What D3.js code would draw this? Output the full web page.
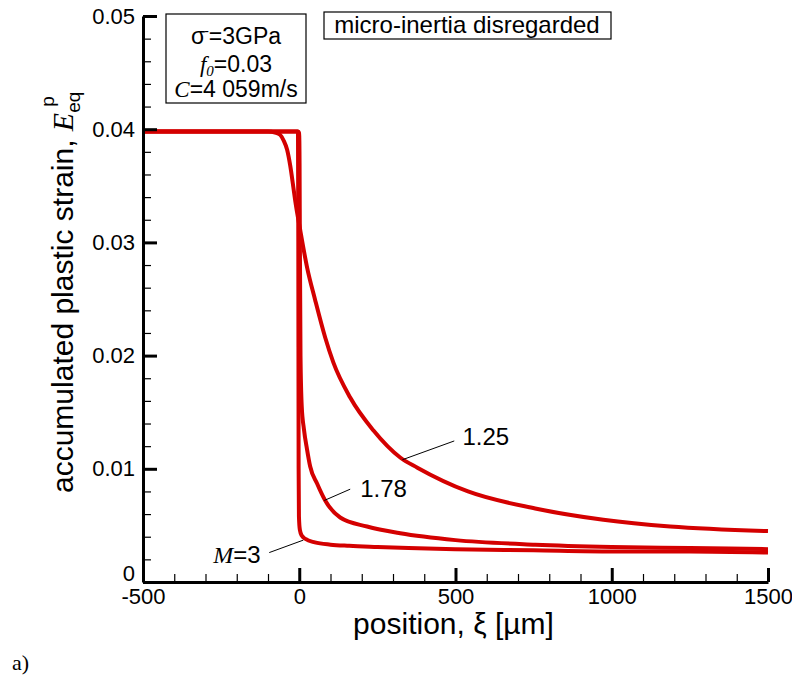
<!DOCTYPE html>
<html>
<head>
<meta charset="utf-8">
<script src="https://cdn.jsdelivr.net/npm/d3@7"></script>
<style>
  body { margin: 0; background: #fff; }
  text { font-family: "Liberation Sans", Arial, sans-serif; fill: #000; }
  .serif { font-family: "Liberation Serif", "Times New Roman", serif; }
</style>
</head>
<body>
<svg id="chart" width="792" height="675"></svg>
<script>
// curve data: position xi [um] vs accumulated plastic strain
var machLabels = ["1.25", "1.78", "3"];

var xi_125 = [-500, -150, -100, -77, -61, -50, -39, -29, -19, -13, 3, 25, 51, 83, 109, 163, 237, 323, 378, 540, 755, 973, 1187, 1500];
var eps_125 = [0.0398, 0.0398, 0.0398, 0.0397, 0.0395, 0.0390, 0.0382, 0.0368, 0.0349, 0.0337, 0.0311, 0.0278, 0.0249, 0.0216, 0.0194, 0.0163, 0.0134, 0.0110, 0.0101, 0.0080, 0.0065, 0.0055, 0.0049, 0.0045];

var xi_178 = [-500, -10, -3, -1, 0, 1, 2, 4, 8, 15, 25, 35, 57, 83, 131, 217, 323, 500, 755, 1000, 1250, 1500];
var eps_178 = [0.0398, 0.0398, 0.0398, 0.0397, 0.0394, 0.0370, 0.0300, 0.0200, 0.0155, 0.0135, 0.0117, 0.0102, 0.0087, 0.0072, 0.0057, 0.0049, 0.0043, 0.0037, 0.0033, 0.0031, 0.0030, 0.0029];

var xi_3 = [-500, -10, -6, -4, -3, -2, -1, 2, 8, 20, 50, 100, 160, 250, 350, 500, 750, 1000, 1250, 1500];
var eps_3 = [0.0398, 0.0398, 0.0398, 0.0396, 0.0300, 0.0100, 0.0058, 0.0046, 0.0041, 0.0038, 0.0035, 0.0033, 0.0032, 0.0031, 0.0030, 0.0029, 0.0028, 0.0027, 0.0027, 0.0026];

var xTicks = [-500, 0, 500, 1000, 1500];
var yTicks = [0, 0.01, 0.02, 0.03, 0.04, 0.05];
var xMinor = d3.range(-500, 1501, 100);
var yMinor = d3.range(0, 0.0501, 0.002);

var svg = d3.select("#chart");
var plotLeft = 143, plotRight = 768, plotTop = 16, plotBottom = 582;

var x = d3.scaleLinear().domain([-500, 1500]).range([plotLeft, plotRight]);
var y = d3.scaleLinear().domain([0, 0.05]).range([plotBottom, plotTop]);

var red = "#d40000";

// curves
var line = d3.line()
    .x(function(d) { return x(d[0]); })
    .y(function(d) { return y(d[1]); })
    .curve(d3.curveMonotoneX);

var series = [d3.zip(xi_125, eps_125), d3.zip(xi_178, eps_178), d3.zip(xi_3, eps_3)];

svg.append("g").selectAll("path")
    .data(series)
    .enter().append("path")
    .attr("d", line)
    .attr("fill", "none")
    .attr("stroke", red)
    .attr("stroke-width", 4)
    .attr("stroke-linejoin", "round");

// minor ticks
svg.append("g")
    .attr("transform", "translate(0," + plotBottom + ")")
    .call(d3.axisBottom(x).tickValues(xMinor).tickSize(-8).tickFormat(""))
    .call(function(g) { g.select(".domain").remove(); g.selectAll("line").attr("stroke-width", 1.2); });

svg.append("g")
    .attr("transform", "translate(" + plotLeft + ",0)")
    .call(d3.axisLeft(y).tickValues(yMinor).tickSize(-8).tickFormat(""))
    .call(function(g) { g.select(".domain").remove(); g.selectAll("line").attr("stroke-width", 1.2); });

// major axes
var xAxis = svg.append("g")
    .attr("transform", "translate(0," + plotBottom + ")")
    .call(d3.axisBottom(x).tickValues(xTicks).tickSizeInner(-14).tickSizeOuter(0).tickPadding(6)
        .tickFormat(function(d) { return String(d); }));

var yAxis = svg.append("g")
    .attr("transform", "translate(" + plotLeft + ",0)")
    .call(d3.axisLeft(y).tickValues(yTicks).tickSizeInner(-14).tickSizeOuter(0).tickPadding(8)
        .tickFormat(function(d) { return d === 0 ? "0" : d3.format(".2f")(d); }));

[xAxis, yAxis].forEach(function(g) {
    g.select(".domain").attr("stroke-width", 3).attr("stroke", "#000");
    g.selectAll(".tick line").attr("stroke-width", 3).attr("stroke", "#000");
    g.selectAll(".tick text").attr("font-size", 22).attr("font-family", "Liberation Sans, Arial, sans-serif");
});
yAxis.selectAll(".tick text").filter(function(d) { return d === 0; }).attr("dy", "-0.05em");

// axis titles
svg.append("text")
    .attr("x", (plotLeft + plotRight) / 2 - 2)
    .attr("y", 634)
    .attr("text-anchor", "middle")
    .attr("font-size", 30)
    .text("position, \u03be [\u00b5m]");

var yt = svg.append("text")
    .attr("transform", "translate(73,493) rotate(-90)")
    .attr("text-anchor", "start")
    .attr("font-size", 30);
yt.append("tspan").text("accumulated plastic strain, ");
yt.append("tspan").attr("class", "serif").attr("font-style", "italic").text("E");
yt.append("tspan").attr("font-size", 19).attr("dy", 7).text("eq");
yt.append("tspan").attr("font-size", 19).attr("dx", -15).attr("dy", -26).text("p");

// parameter box
svg.append("rect").attr("x", 166).attr("y", 14).attr("width", 140).attr("height", 89)
    .attr("fill", "#fff").attr("stroke", "#000").attr("stroke-width", 1.2);

var b1 = svg.append("text").attr("x", 236).attr("y", 44).attr("text-anchor", "middle").attr("font-size", 23);
b1.append("tspan").text("\u03c3");
b1.append("tspan").attr("font-size", 14).attr("dy", -8).attr("dx", -1).text("-");
b1.append("tspan").attr("dy", 8).text("=3GPa");

var b2 = svg.append("text").attr("x", 236).attr("y", 72).attr("text-anchor", "middle").attr("font-size", 23);
b2.append("tspan").attr("class", "serif").attr("font-style", "italic").text("f");
b2.append("tspan").attr("class", "serif").attr("font-style", "italic").attr("font-size", 15).attr("dy", 4).text("0");
b2.append("tspan").attr("dy", -4).text("=0.03");

var b3 = svg.append("text").attr("x", 236).attr("y", 97).attr("text-anchor", "middle").attr("font-size", 23);
b3.append("tspan").attr("class", "serif").attr("font-style", "italic").text("C");
b3.append("tspan").text("=4 059m/s");

// title box
svg.append("rect").attr("x", 324).attr("y", 12).attr("width", 287).attr("height", 27)
    .attr("fill", "#fff").attr("stroke", "#000").attr("stroke-width", 1.2);
svg.append("text").attr("x", 467).attr("y", 33).attr("text-anchor", "middle").attr("font-size", 24)
    .text("micro-inertia disregarded");

// curve labels with leader lines (data coordinates)
var labelPos = [
    { from: [330, 0.0108], to: [496, 0.01246], tx: 522, ty: 0.0121, italic: false },
    { from: [80, 0.0072], to: [163, 0.0082], tx: 195, ty: 0.0075, italic: false },
    { from: [13, 0.0037], to: [-96, 0.0026], tx: -275, ty: 0.0017, italic: true }
];
labelPos.forEach(function(p, i) {
    svg.append("line")
        .attr("x1", x(p.from[0])).attr("y1", y(p.from[1]))
        .attr("x2", x(p.to[0])).attr("y2", y(p.to[1]))
        .attr("stroke", "#000").attr("stroke-width", 1);
    var t = svg.append("text").attr("x", x(p.tx)).attr("y", y(p.ty)).attr("font-size", 24);
    if (p.italic) {
        t.append("tspan").attr("class", "serif").attr("font-style", "italic").text("M");
        t.append("tspan").text("=" + machLabels[i]);
    } else {
        t.text(machLabels[i]);
    }
});

svg.append("text").attr("class", "serif").attr("x", 12).attr("y", 670).attr("font-size", 22).text("a)");
</script>
</body>
</html>
